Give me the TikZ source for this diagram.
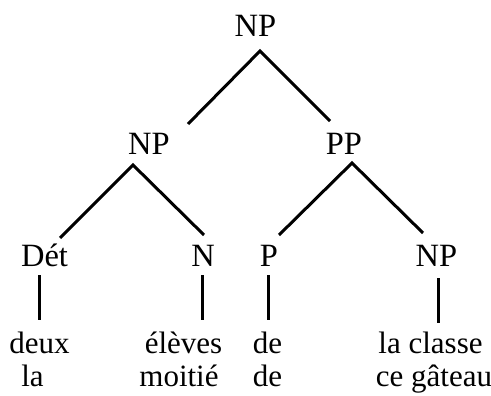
\documentclass[tikz,border=0pt]{standalone}
\usepackage{fontspec}
\setmainfont{Liberation Serif}
\begin{document}
\begin{tikzpicture}[x=1pt,y=-1pt,
  lab/.style={anchor=base,inner sep=0pt,font=\fontsize{32.5}{38}\selectfont},
  word/.style={anchor=base,inner sep=0pt,font=\fontsize{31}{36}\selectfont},
  branch/.style={line width=3pt,line cap=butt}]
\useasboundingbox (0,0) rectangle (491,396);
% category labels
\node[lab] (np0) at (255.5,37) {NP};
\node[lab] (np1) at (149,155) {NP};
\node[lab] (pp)  at (344,155) {PP};
\node[lab] (det) at (44.5,266) {Dét};
\node[lab] (n)   at (203,266) {N};
\node[lab] (p)   at (269,266) {P};
\node[lab] (np2) at (436.5,266) {NP};
% words
\node[word] (w1a) at (39.5,353) {deux};
\node[word] (w1b) at (32.5,386) {la};
\node[word] (w2a) at (183.5,353) {élèves};
\node[word] (w2b) at (179,386) {moitié};
\node[word] (w3a) at (267.5,353) {de};
\node[word] (w3b) at (267.5,386) {de};
\node[word] (w4a) at (430.5,353) {la classe};
\node[word] (w4b) at (434,386) {ce gâteau};
% branch points
\coordinate (a0) at (260,51);
\coordinate (a0l) at (188,124);
\coordinate (a0r) at (330,121);
\coordinate (a1) at (133,165);
\coordinate (a1l) at (60,238);
\coordinate (a1r) at (204,235);
\coordinate (a2) at (352,163);
\coordinate (a2l) at (279,235);
\coordinate (a2r) at (423,233);
\coordinate (vdt) at (39.5,275);  \coordinate (vdb) at (39.5,320);
\coordinate (vnt) at (202,275);   \coordinate (vnb) at (202,320);
\coordinate (vpt) at (268,275);   \coordinate (vpb) at (268,320);
\coordinate (vqt) at (438,278);   \coordinate (vqb) at (438,323);
\draw[branch] (a0l) -- (a0) -- (a0r);
\draw[branch] (a1l) -- (a1) -- (a1r);
\draw[branch] (a2l) -- (a2) -- (a2r);
\draw[branch] (vdt) -- (vdb);
\draw[branch] (vnt) -- (vnb);
\draw[branch] (vpt) -- (vpb);
\draw[branch] (vqt) -- (vqb);
\end{tikzpicture}
\end{document}
